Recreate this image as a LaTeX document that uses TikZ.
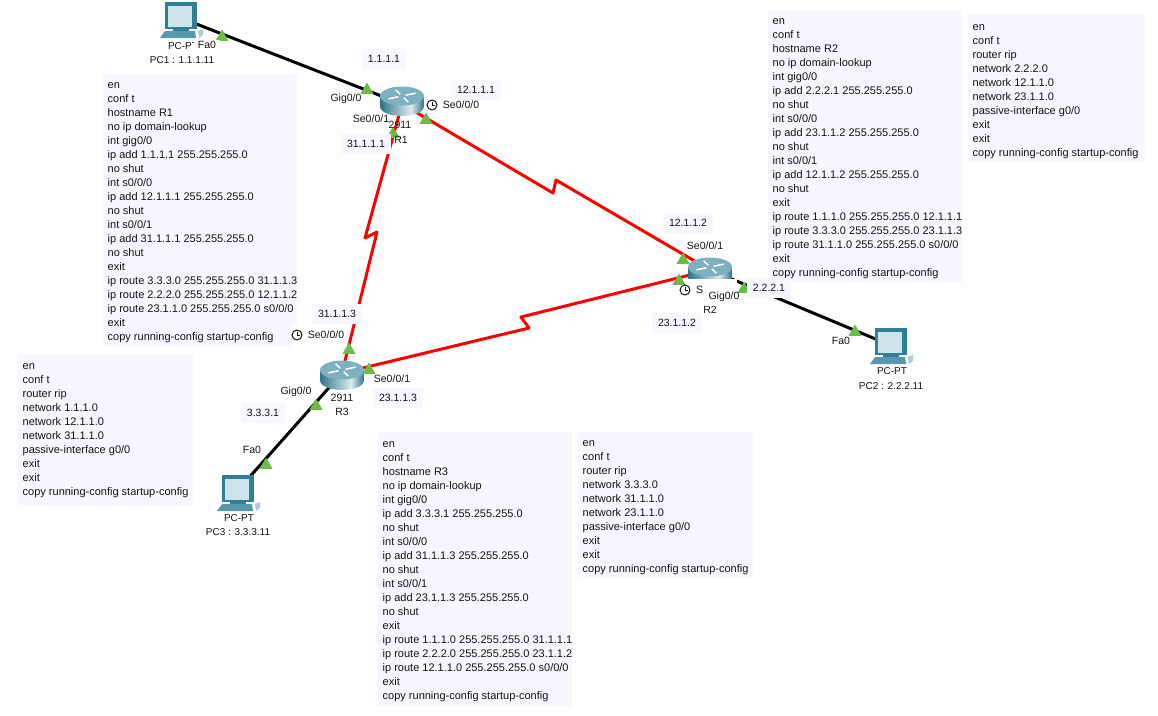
\documentclass[tikz,border=0pt]{standalone}
\usepackage{fontspec}
\setmainfont{Liberation Sans}
\usetikzlibrary{positioning,calc,shapes.geometric}
\definecolor{ink}{HTML}{141414}
\definecolor{cfgFill}{HTML}{F7F8FF}
\definecolor{linkRed}{HTML}{FF0000}
\definecolor{portGreen}{HTML}{6CBB48}
\definecolor{rtrTop}{HTML}{7FB0C0}
\definecolor{rtrDark}{HTML}{2F7488}
\definecolor{rtrLight}{HTML}{DDEBF0}
\definecolor{pcBody}{HTML}{2F7F99}
\definecolor{pcScreen}{HTML}{CFE3EA}
\tikzset{
  cfgbox/.style={anchor=north west,fill=cfgFill,inner sep=0pt},
  cfg/.style={anchor=west,font=\fontsize{11}{14}\selectfont,text=ink,align=left,inner xsep=4.5pt,inner ysep=0pt},
  iplab/.style={fill=cfgFill,font=\fontsize{10.5}{12}\selectfont,text=ink,inner xsep=6pt,inner ysep=6pt},
  lab/.style={font=\fontsize{10.5}{12}\selectfont,text=ink,inner sep=0pt},
  devlab/.style={font=\fontsize{10}{12}\selectfont,text=ink,inner sep=0pt},
  whitelab/.style={lab,fill=white,inner sep=1pt},
  maskbox/.style={fill=white,inner sep=0pt,anchor=north west},
  eth/.style={draw=black,line width=3pt},
  ser/.style={draw=linkRed,line width=3pt,line join=round},
  port/.style={fill=portGreen,draw=none,regular polygon,regular polygon sides=3,minimum size=15pt,inner sep=0pt},
  dev/.style={inner sep=0pt,minimum size=2pt},
  routerpic/.pic={
    \begin{scope}
    \clip (-22,0) -- (-22,10) .. controls (-22,23.3) and (22,23.3) .. (22,10) -- (22,0) -- cycle;
    \shade[left color=rtrDark,right color=rtrLight] (-22,0) rectangle (9,21);
    \shade[left color=rtrLight,right color=rtrDark] (9,0) rectangle (22,21);
    \end{scope}
    \fill[rtrTop] (0,0) ellipse[x radius=22,y radius=9.5];
    \foreach \a in {25,115,205,295}{\draw[white,line width=1.5pt,yscale=.45,rotate=\a] (4,0) -- (15,0);}
  },
  pcpic/.pic={
    \fill[pcBody] (0,0) rectangle (32,27);
    \fill[pcScreen] (3,4) rectangle (27,25);
    \fill[pcBody] (8,27) rectangle (24,29);
    \fill[pcBody!80] (-5,36) -- (0,29) -- (30,29) -- (31,36) -- cycle;
    \fill[pcBody!40] (33,29) -- (38,27) -- (38,33) -- (34,36) -- cycle;
  },
  clockpic/.pic={
    \draw[ink,line width=1pt,fill=white] (0,0) circle[radius=5];
    \draw[ink,line width=.8pt] (0,-3.5) -- (0,0) -- (3,0);
  }
}
\begin{document}
\begin{tikzpicture}[x=1pt,y=-1pt]
\useasboundingbox (0,0) rectangle (1158,715);
% config boxes
\node[cfgbox,minimum width=194pt,minimum height=273pt] (boxR1) at (103,74) {};
\node[cfg] (cfgR1) at ($(boxR1.west)+(0,2)$) {en\\conf t\\hostname R1\\no ip domain-lookup\\int gig0/0\\ip add 1.1.1.1 255.255.255.0\\no shut\\int s0/0/0\\ip add 12.1.1.1 255.255.255.0\\no shut\\int s0/0/1\\ip add 31.1.1.1 255.255.255.0\\no shut\\exit\\ip route 3.3.3.0 255.255.255.0 31.1.1.3\\ip route 2.2.2.0 255.255.255.0 12.1.1.2\\ip route 23.1.1.0 255.255.255.0 s0/0/0\\exit\\copy running-config startup-config};
\node[cfgbox,minimum width=175pt,minimum height=151pt] (boxR1b) at (18,354) {};
\node[cfg] (ripR1) at ($(boxR1b.west)+(0,1)$) {en\\conf t\\router rip\\network 1.1.1.0\\network 12.1.1.0\\network 31.1.1.0\\passive-interface g0/0\\exit\\exit\\copy running-config startup-config};
\node[cfgbox,minimum width=194pt,minimum height=273pt] (boxR2) at (768,10) {};
\node[cfg] (cfgR2) at ($(boxR2.west)+(0,2)$) {en\\conf t\\hostname R2\\no ip domain-lookup\\int gig0/0\\ip add 2.2.2.1 255.255.255.0\\no shut\\int s0/0/0\\ip add 23.1.1.2 255.255.255.0\\no shut\\int s0/0/1\\ip add 12.1.1.2 255.255.255.0\\no shut\\exit\\ip route 1.1.1.0 255.255.255.0 12.1.1.1\\ip route 3.3.3.0 255.255.255.0 23.1.1.3\\ip route 31.1.1.0 255.255.255.0 s0/0/0\\exit\\copy running-config startup-config};
\node[cfgbox,minimum width=177pt,minimum height=146pt] (boxR2b) at (968,15) {};
\node[cfg] (ripR2) at ($(boxR2b.west)+(0,3)$) {en\\conf t\\router rip\\network 2.2.2.0\\network 12.1.1.0\\network 23.1.1.0\\passive-interface g0/0\\exit\\exit\\copy running-config startup-config};
\node[cfgbox,minimum width=194pt,minimum height=274pt] (boxR3) at (378,432) {};
\node[cfg] (cfgR3) at ($(boxR3.west)+(0,2)$) {en\\conf t\\hostname R3\\no ip domain-lookup\\int gig0/0\\ip add 3.3.3.1 255.255.255.0\\no shut\\int s0/0/0\\ip add 31.1.1.3 255.255.255.0\\no shut\\int s0/0/1\\ip add 23.1.1.3 255.255.255.0\\no shut\\exit\\ip route 1.1.1.0 255.255.255.0 31.1.1.1\\ip route 2.2.2.0 255.255.255.0 23.1.1.2\\ip route 12.1.1.0 255.255.255.0 s0/0/0\\exit\\copy running-config startup-config};
\node[cfgbox,minimum width=175pt,minimum height=145pt] (boxR3b) at (578,432) {};
\node[cfg] (ripR3) at ($(boxR3b.west)+(0,3)$) {en\\conf t\\router rip\\network 3.3.3.0\\network 31.1.1.0\\network 23.1.1.0\\passive-interface g0/0\\exit\\exit\\copy running-config startup-config};
% devices
\node[dev] (R1) at (402,104) {};
\node[dev] (R2) at (710,270) {};
\node[dev] (R3) at (342,373) {};
\node[dev] (PC1) at (181,18) {};
\node[dev] (PC2) at (890,345) {};
\node[dev] (PC3) at (238,490) {};
\coordinate (r1a) at (553,193);\coordinate (r1b) at (556,180);
\coordinate (r2a) at (365,238);\coordinate (r2b) at (377,232);
\coordinate (r3a) at (529,328);\coordinate (r3b) at (521,317);
\draw[eth] (PC1.center) -- (R1.center);
\draw[eth] (R2.center) -- (PC2.center);
\draw[eth] (R3.center) -- (PC3.center);
\draw[ser] (R1.center) -- (r1a) -- (r1b) -- (R2.center);
\draw[ser] (R1.center) -- (r2a) -- (r2b) -- (R3.center);
\draw[ser] (R3.center) -- (r3a) -- (r3b) -- (R2.center);
\pic at (402,96) {routerpic};
\pic at (710,267) {routerpic};
\pic at (342,370) {routerpic};
\pic at (165,2) {pcpic};
\pic at (875,328) {pcpic};
\pic at (222,475) {pcpic};
% port markers
\node[port] (p1) at (222,37) {};
\node[port] (p2) at (367,90) {};
\node[port] (p3) at (426,120) {};
\node[port] (p4) at (393,134) {};
\node[port] (p5) at (683,260) {};
\node[port] (p6) at (679,281) {};
\node[port] (p7) at (744,289) {};
\node[port] (p8) at (855,332) {};
\node[port] (p9) at (349,350) {};
\node[port] (p10) at (369,370) {};
\node[port] (p11) at (316,406) {};
\node[port] (p12) at (266,465) {};
% labels
\node[lab] (tR1) at (400,125) {2911};
\node[lab] (nR1) at (401,140) {R1};
\node[lab] (tR3) at (342,398) {2911};
\node[lab] (nR3) at (342,412) {R3};
\node[iplab] (a1) at (384,59) {1.1.1.1};
\node[iplab] (a2) at (476,90) {12.1.1.1};
\node[iplab] (a3) at (366,144) {31.1.1.1};
\node[iplab] (a4) at (688,223) {12.1.1.2};
\node[iplab] (a5) at (677,323) {23.1.1.2};
\node[iplab] (a6) at (769,288) {2.2.2.1};
\node[iplab] (a7) at (337,314) {31.1.1.3};
\node[iplab] (a8) at (398,398) {23.1.1.3};
\node[iplab] (a9) at (263,413) {3.3.3.1};
\node[lab] (g1) at (346,99) {Gig0/0};
\node[lab] (g2) at (371,119) {Se0/0/1};
\node[whitelab] (g3) at (461,105) {Se0/0/0};
\node[devlab] (t1) at (183,46) {PC-PT};
\node[whitelab,inner xsep=4pt] (g4) at (207,45) {Fa0};
\node[lab] (g5) at (705,246) {Se0/0/1};
\node[maskbox,minimum width=18pt,minimum height=18pt] (rmask) at (688,279) {};
\node[lab,anchor=west] (g6) at (696,290) {S};
\node[lab] (nR2) at (710,310) {R2};
\node[maskbox,minimum width=32pt,minimum height=27pt] (rmask2) at (705,279) {};
\node[lab] (g7) at (724,297) {Gig0/0};
\node[lab] (g8) at (841,341) {Fa0};
\node[maskbox,minimum width=53pt,minimum height=21pt] (rmask3) at (292,325) {};
\node[lab] (g9) at (326,335) {Se0/0/0};
\node[lab] (g10) at (392,379) {Se0/0/1};
\node[lab] (g11) at (296,392) {Gig0/0};
\node[lab] (g12) at (252,450) {Fa0};
\node[devlab] (c1) at (182,60) {PC1 : 1.1.1.11};
\node[devlab] (t2) at (892,371) {PC-PT};
\node[devlab] (c2) at (891,386) {PC2 : 2.2.2.11};
\node[devlab] (t3) at (239,518) {PC-PT};
\node[devlab] (c3) at (238,532) {PC3 : 3.3.3.11};
\pic at (432,105) {clockpic};
\pic at (685,290) {clockpic};
\pic at (297,335) {clockpic};
\end{tikzpicture}
\end{document}
